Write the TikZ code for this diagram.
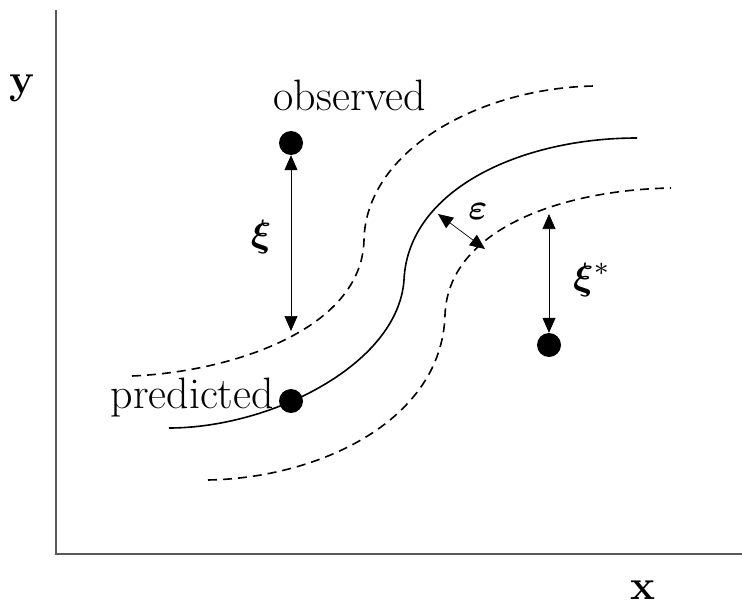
\documentclass[tikz,border=0pt]{standalone}
\usepackage{amsmath,amssymb,bm,graphicx}
\usetikzlibrary{arrows.meta}
\begin{document}
\begin{tikzpicture}[x=1pt,y=-1pt,
  axis/.style={draw=black!65,line width=1.6pt},
  curve/.style={line width=1.6pt},
  band/.style={line width=1.6pt,dash pattern=on 9pt off 6pt},
  dbl/.style={line width=0.7pt,{Triangle[length=15pt,width=13pt]}-{Triangle[length=15pt,width=13pt]}},
  dot/.style={circle,fill=black,minimum size=24pt,inner sep=0pt},
  lbl/.style={font=\fontsize{44}{46}\selectfont,inner sep=0pt},
  mlbl/.style={inner sep=0pt},
  blbl/.style={font=\fontsize{42}{44}\selectfont\bfseries,inner sep=0pt}]
\useasboundingbox (0,0) rectangle (742,608);
% axes
\coordinate (top) at (56,10);
\coordinate (org) at (56,554);
\coordinate (right) at (742,554);
\draw[axis] (top) -- (org) -- (right);
\node[blbl] (ylab) at (22,88) {y};
\node[blbl] (xlab) at (643,590) {x};
% curves
\draw[band] (132,376) .. controls (230,372) and (362,330) .. (364,240)
                      .. controls (366,150) and (480,88) .. (594,86);
\draw[curve] (169,428) .. controls (270,428) and (398,365) .. (404,280)
                       .. controls (408,190) and (520,138) .. (637,138);
\draw[band] (208,480) .. controls (320,478) and (442,420) .. (445,315)
                      .. controls (448,230) and (560,190) .. (671,188);
% dots
\node[dot] (obs) at (291,143) {};
\node[dot] (pred) at (291,401) {};
\node[dot] (out) at (549,345) {};
\node[lbl,anchor=base] (obstext) at (350,110) {observed};
\node[lbl,anchor=base east] (predtext) at (274,408) {predicted};
% arrows
\coordinate (xiend) at (291,331);
\draw[dbl] (obs.south) -- (xiend);
\node[mlbl] (xi) at (261,237) {\scalebox{3.8}{$\bm{\xi}$}};
\coordinate (ea) at (438,214);
\coordinate (eb) at (485,249);
\draw[dbl] (ea) -- (eb);
\node[mlbl] (eps) at (478,211) {\scalebox{3.6}{$\bm{\varepsilon}$}};
\coordinate (xsa) at (549,214);
\draw[dbl] (xsa) -- (out.north);
\node[mlbl,anchor=west] (xis) at (573,280) {\scalebox{3.8}{$\bm{\xi}^{*}$}};
\end{tikzpicture}
\end{document}
